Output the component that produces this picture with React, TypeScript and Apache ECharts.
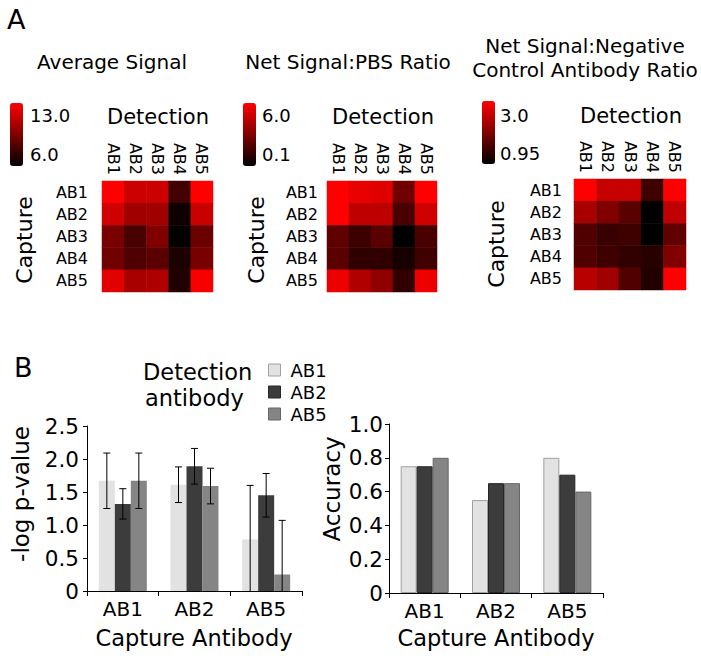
import React, { useEffect, useRef } from "react";
import * as echarts from "echarts";

const FONT = "DejaVu Sans";

// ---------- Panel A data ----------
const detectionAbs = ["AB1", "AB2", "AB3", "AB4", "AB5"];
const captureAbs = ["AB1", "AB2", "AB3", "AB4", "AB5"];

// rows = capture AB1..AB5, cols = detection AB1..AB5
const averageSignal = [
  [13.0, 11.6, 11.6, 7.8, 13.0],
  [11.7, 10.4, 10.4, 6.4, 11.5],
  [9.3, 8.0, 9.5, 6.1, 8.9],
  [9.1, 8.2, 8.5, 6.8, 9.3],
  [12.2, 10.6, 10.8, 6.9, 12.8],
];
const pbsRatio = [
  [6.0, 5.5, 5.3, 2.7, 6.0],
  [6.0, 4.5, 4.5, 1.8, 4.9],
  [2.3, 1.5, 2.2, 0.1, 1.8],
  [2.2, 1.2, 1.2, 0.6, 1.6],
  [5.6, 4.2, 3.4, 1.2, 5.6],
];
const negCtrlRatio = [
  [3.0, 2.55, 2.55, 1.46, 3.0],
  [2.3, 1.98, 1.67, 0.95, 2.49],
  [1.59, 1.4, 1.46, 0.95, 1.73],
  [1.59, 1.46, 1.34, 1.28, 1.98],
  [2.43, 2.24, 1.59, 1.22, 3.0],
];
const avgRange = [6.0, 13.0];
const pbsRange = [0.1, 6.0];
const negRange = [0.95, 3.0];
const avgRangeLabels = ["13.0", "6.0"];
const pbsRangeLabels = ["6.0", "0.1"];
const negRangeLabels = ["3.0", "0.95"];

// ---------- Panel B data ----------
const captureCats = ["AB1", "AB2", "AB5"];
const detectionNames = ["AB1", "AB2", "AB5"];
const pvalDetAB1 = [1.67, 1.61, 0.78];
const pvalDetAB2 = [1.32, 1.89, 1.45];
const pvalDetAB5 = [1.67, 1.59, 0.25];
const errDetAB1 = [0.42, 0.27, 0.82];
const errDetAB2 = [0.23, 0.27, 0.33];
const errDetAB5 = [0.42, 0.27, 0.82];
const accDetAB1 = [0.75, 0.55, 0.8];
const accDetAB2 = [0.75, 0.65, 0.7];
const accDetAB5 = [0.8, 0.65, 0.6];
const barColors = ["#e2e2e2", "#3c3c3c", "#858585"];
const barBorders = ["#a0a0a0", "#262626", "#666666"];

function toCells(m: number[][]) {
  const out: number[][] = [];
  m.forEach((row, r) => row.forEach((v, c) => out.push([c, r, v])));
  return out;
}

export default function App() {
  const ref = useRef<HTMLDivElement>(null);
  useEffect(() => {
    if (!ref.current) return;
    const chart = echarts.init(ref.current, undefined, { renderer: "svg" });

    const hmGrids = [
      { left: 102, top: 181, width: 111, height: 111, rowMargin: 14 },
      { left: 327, top: 181, width: 110, height: 111, rowMargin: 9 },
      { left: 574, top: 179, width: 112, height: 111, rowMargin: 12 },
    ];
    const barGrids = [
      { left: 87, top: 426, width: 215, height: 165, labMargin: 8 },
      { left: 389, top: 424, width: 214, height: 169, labMargin: 6 },
    ];
    const grids: any[] = [...hmGrids, ...barGrids].map((g) => ({
      left: g.left,
      top: g.top,
      width: g.width,
      height: g.height,
      containLabel: false,
    }));

    const xAxes: any[] = [];
    const yAxes: any[] = [];
    hmGrids.forEach((g, i) => {
      xAxes.push({
        type: "category",
        gridIndex: i,
        position: "top",
        data: detectionAbs,
        axisLine: { show: false },
        axisTick: { show: false },
        splitArea: { show: false },
        axisLabel: { rotate: 90, fontSize: 16, margin: 6, color: "#000", fontFamily: FONT },
      });
      yAxes.push({
        type: "category",
        gridIndex: i,
        inverse: true,
        data: captureAbs,
        axisLine: { show: false },
        axisTick: { show: false },
        splitArea: { show: false },
        axisLabel: { fontSize: 16, margin: g.rowMargin, color: "#000", fontFamily: FONT },
      });
    });
    const axisLine = { show: true, lineStyle: { color: "#000", width: 1 } };
    barGrids.forEach((g, k) => {
      xAxes.push({
        type: "category",
        gridIndex: 3 + k,
        data: captureCats,
        axisLine,
        axisTick: { show: true, length: 5, lineStyle: { color: "#000" } },
        axisLabel: { fontSize: 20, margin: 8, color: "#000", fontFamily: FONT },
      });
      yAxes.push({
        type: "value",
        gridIndex: 3 + k,
        min: 0,
        max: k === 0 ? 2.5 : 1.0,
        interval: k === 0 ? 0.5 : 0.2,
        axisLine,
        axisTick: { show: true, length: 4, lineStyle: { color: "#000" } },
        splitLine: { show: false },
        axisLabel: {
          fontSize: 21.5,
          margin: g.labMargin,
          color: "#000",
          fontFamily: FONT,
          formatter: (v: number) => (v === 0 ? "0" : v.toFixed(1)),
        },
      });
    });

    const series: any[] = [];
    [averageSignal, pbsRatio, negCtrlRatio].forEach((m, i) => {
      series.push({
        type: "heatmap",
        xAxisIndex: i,
        yAxisIndex: i,
        data: toCells(m),
        silent: true,
        label: { show: false },
        itemStyle: { borderWidth: 0 },
        emphasis: { disabled: true },
      });
    });

    const pvals = [pvalDetAB1, pvalDetAB2, pvalDetAB5];
    const errs = [errDetAB1, errDetAB2, errDetAB5];
    const accs = [accDetAB1, accDetAB2, accDetAB5];
    pvals.forEach((d, j) => {
      series.push({
        type: "bar",
        name: detectionNames[j],
        xAxisIndex: 3,
        yAxisIndex: 3,
        data: d,
        barWidth: 16,
        barGap: "0%",
        silent: true,
        itemStyle: { color: barColors[j] },
      });
    });
    accs.forEach((d, j) => {
      series.push({
        type: "bar",
        name: detectionNames[j],
        xAxisIndex: 4,
        yAxisIndex: 4,
        data: d,
        barWidth: 16,
        barGap: "0%",
        silent: true,
        itemStyle: { color: barColors[j], borderColor: barBorders[j], borderWidth: 1 },
      });
    });
    const offsets = [-16, 0, 16];
    pvals.forEach((d, j) => {
      series.push({
        type: "custom",
        xAxisIndex: 3,
        yAxisIndex: 3,
        z: 5,
        silent: true,
        data: d.map((v, i) => [i, v, errs[j][i]]),
        encode: { x: 0, y: 1 },
        renderItem: (params: any, api: any) => {
          const c = api.value(0);
          const v = api.value(1);
          const e = api.value(2);
          const lowV = Math.max(0, v - e);
          const hi = api.coord([c, v + e]);
          const lo = api.coord([c, lowV]);
          const x = hi[0] + offsets[j];
          const cap = 3.5;
          const st = { stroke: "#000", lineWidth: 1 };
          const children: any[] = [
            { type: "line", shape: { x1: x, y1: hi[1], x2: x, y2: lo[1] }, style: st },
            { type: "line", shape: { x1: x - cap, y1: hi[1], x2: x + cap, y2: hi[1] }, style: st },
          ];
          if (v - e > 0) {
            children.push({ type: "line", shape: { x1: x - cap, y1: lo[1], x2: x + cap, y2: lo[1] }, style: st });
          }
          return { type: "group", children };
        },
      });
    });

    const vm = (idx: number, range: number[], left: number, top: number) => ({
      type: "continuous",
      seriesIndex: idx,
      min: range[0],
      max: range[1],
      show: true,
      calculable: false,
      orient: "vertical",
      left,
      top,
      itemWidth: 13,
      itemHeight: 63,
      padding: 0,
      inRange: { color: ["#000000", "#ff0000"] },
    });

    const txt = (
      text: string,
      x: number,
      y: number,
      size: number,
      align: string = "center",
      rotation: number = 0
    ) => ({
      type: "text",
      x,
      y,
      rotation,
      silent: true,
      style: {
        text,
        fill: "#000",
        fontSize: size,
        fontFamily: FONT,
        align,
        textAlign: align,
        verticalAlign: "middle",
        textVerticalAlign: "middle",
      },
    });

    const graphic: any[] = [
      txt("A", 7, 19, 27, "left"),
      txt("Average Signal", 112, 62, 20),
      txt("Net Signal:PBS Ratio", 348, 62, 20),
      txt("Net Signal:Negative", 585, 46, 20),
      txt("Control Antibody Ratio", 585, 70, 20),
      // heatmap headers
      txt("Detection", 158, 117, 21),
      txt("Detection", 383, 117, 21),
      txt("Detection", 631, 116, 21),
      txt("Capture", 24, 240, 22, "center", Math.PI / 2),
      txt("Capture", 256, 240, 22, "center", Math.PI / 2),
      txt("Capture", 496, 244, 22, "center", Math.PI / 2),
      // colorbar labels
      txt(avgRangeLabels[0], 30, 115, 18, "left"),
      txt(avgRangeLabels[1], 30, 154, 18, "left"),
      txt(pbsRangeLabels[0], 262, 115, 18, "left"),
      txt(pbsRangeLabels[1], 262, 154, 18, "left"),
      txt(negRangeLabels[0], 500, 115, 18, "left"),
      txt(negRangeLabels[1], 500, 153, 18, "left"),
      // panel B
      txt("B", 14, 367, 27, "left"),
      txt("Detection", 143, 372, 22.5, "left"),
      txt("antibody", 145, 398, 22.5, "left"),
      txt("-log p-value", 21, 494, 23, "center", Math.PI / 2),
      txt("Accuracy", 332, 489, 23, "center", Math.PI / 2),
      txt("Capture Antibody", 194, 638, 22.5),
      txt("Capture Antibody", 496, 638, 22.5),
    ];

    chart.setOption({
      animation: false,
      textStyle: { fontFamily: FONT, color: "#000" },
      grid: grids,
      xAxis: xAxes,
      yAxis: yAxes,
      visualMap: [
        vm(0, avgRange, 10, 103),
        vm(1, pbsRange, 243, 103),
        vm(2, negRange, 482, 101),
      ],
      legend: {
        show: true,
        orient: "vertical",
        left: 268,
        top: 359,
        padding: 0,
        itemGap: 0,
        itemWidth: 12,
        itemHeight: 12,
        icon: "rect",
        selectedMode: false,
        textStyle: {
          fontSize: 18,
          lineHeight: 22,
          padding: [0, 0, 0, 5],
          fontFamily: FONT,
          color: "#000",
        },
        data: detectionNames.map((n, j) => ({
          name: n,
          itemStyle: { color: barColors[j], borderColor: barBorders[j], borderWidth: 1 },
        })),
      },
      graphic,
      series,
    });
    return () => chart.dispose();
  }, []);
  return (
    <div
      ref={ref}
      style={{ position: "absolute", left: 0, top: 0, width: 701, height: 660, background: "#fff" }}
    />
  );
}
